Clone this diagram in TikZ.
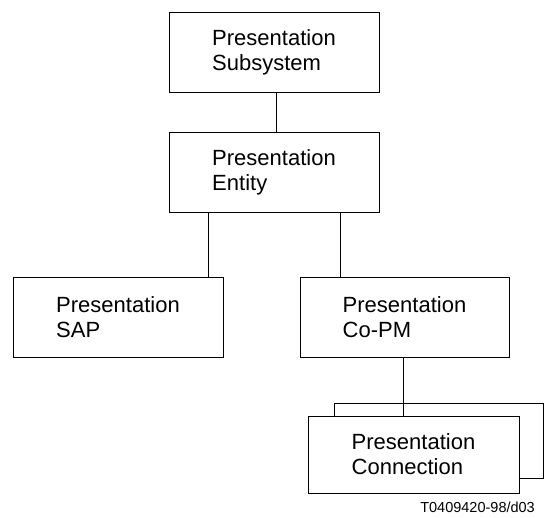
\documentclass[tikz,border=0pt]{standalone}
\usepackage{fontspec}
\setmainfont{Liberation Sans}
\begin{document}
\begin{tikzpicture}[x=1pt,y=-1pt,
  box/.style={draw=black,line width=1pt,fill=white,inner sep=0pt,align=left,
    font=\fontsize{22}{25}\selectfont},
  link/.style={draw=black,line width=1pt}]
\useasboundingbox (0,0) rectangle (545,517);
\node[box,minimum width=210pt,minimum height=80pt] (sub) at (274,52) {Presentation\\Subsystem};
\node[box,minimum width=210pt,minimum height=80pt] (ent) at (274,172) {Presentation\\Entity};
\node[box,minimum width=210pt,minimum height=80pt] (sap) at (118,317) {Presentation\\SAP};
\node[box,minimum width=209pt,minimum height=80pt] (copm) at (404.5,317) {Presentation\\Co-PM};
\node[box,minimum width=209pt,minimum height=75pt] (back) at (438.5,440.5) {};
\draw[link] ([xshift=2pt]sub.south) -- ([xshift=2pt]ent.north);
\draw[link] ([xshift=-66pt]ent.south) -- ([xshift=-66pt]ent.south |- sap.north);
\draw[link] ([xshift=66pt]ent.south) -- ([xshift=66pt]ent.south |- copm.north);
\node[box,minimum width=211pt,minimum height=77pt] (front) at (413.5,454.5) {Presentation\\Connection};
\draw[link] ([xshift=-1.5pt]copm.south) -- ([xshift=-1.5pt]copm.south |- front.north);
\node[anchor=base east,inner sep=0pt,font=\fontsize{14.5}{17}\selectfont] (tag) at (535,512) {T0409420-98/d03};
\end{tikzpicture}
\end{document}
